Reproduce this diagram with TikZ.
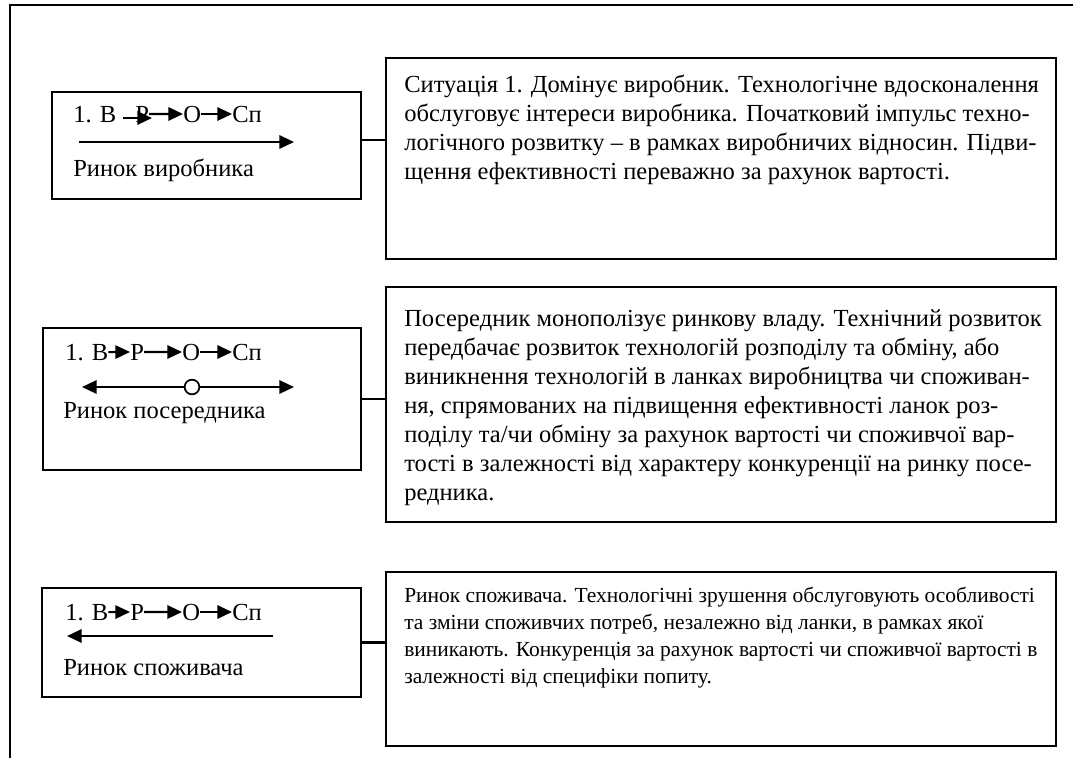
\documentclass[tikz,border=0pt]{standalone}
\usepackage{fontspec}
\setmainfont{Liberation Serif}
\usetikzlibrary{arrows.meta,fit}
\newcommand\fsbig{\fontsize{18.4}{21.75}\selectfont}
\newcommand\fssmall{\fontsize{16.1}{20.25}\selectfont}
\tikzset{
  frameline/.style={line width=1.7pt},
  box/.style={draw, line width=1.6pt, inner sep=0pt},
  lbl/.style={inner sep=0pt, anchor=base west, font=\fsbig},
  arr/.style={line width=1.6pt, -{Triangle[length=11pt,width=10pt]}},
  conn/.style={line width=1.6pt},
  ring/.style={circle, draw, fill=white, line width=1.3pt, minimum size=11pt, inner sep=0pt},
  para/.style={inner sep=0pt, anchor=base west}
}
\begin{document}
\begin{tikzpicture}[x=0.75pt,y=-0.75pt]
\useasboundingbox (0,0) rectangle (1073,758);
% outer frame (top and left)
\coordinate (fa) at (10,758);
\coordinate (fb) at (10,5);
\coordinate (fc) at (1073,5);
\draw[frameline] (fa) -- (fb) -- (fc);

% ---------- row 1 ----------
\node[box, fit={(52,92)(361,199)}] (l1) {};
\node[box, fit={(386,58)(1056,259)}] (r1) {};
\path ([yshift=4pt]l1.east) coordinate (q1);
\draw[conn] (q1) -- (q1 -| r1.west);
\node[lbl] (b1) at (73,122) {1. В};
\node[lbl] (p1) at (135,122) {Р};
\node[lbl] (o1) at (183,122) {О};
\node[lbl] (c1) at (232,122) {Сп};
\coordinate (s1) at (123,118);
\coordinate (e1) at (152,118);
\draw[arr] (s1) -- (e1);
\draw[arr] (p1.east) -- (o1.west);
\draw[arr] (o1.east) -- (c1.west);
\coordinate (a1s) at (79,142);
\coordinate (a1e) at (294,142);
\draw[arr] (a1s) -- (a1e);
\node[lbl] (m1) at (73,176) {Ринок виробника};
\node[para] (t1) at (404,92) {\parbox[t]{500pt}{\fsbig\raggedright
Ситуація 1. Домінує виробник. Технологічне вдосконалення\\
обслуговує інтереси виробника. Початковий імпульс техно-\\
логічного розвитку – в рамках виробничих відносин. Підви-\\
щення ефективності переважно за рахунок вартості.}};

% ---------- row 2 ----------
\node[box, fit={(43,328)(361,470)}] (l2) {};
\node[box, fit={(386,287)(1056,522)}] (r2) {};
\draw[conn] (l2.east) -- (l2.east -| r2.west);
\node[lbl] (b2) at (65,360) {1. В};
\node[lbl] (p2) at (130,360) {Р};
\node[lbl] (o2) at (182,360) {О};
\node[lbl] (c2) at (232,360) {Сп};
\draw[arr] (b2.east) -- (p2.west);
\draw[arr] (p2.east) -- (o2.west);
\draw[arr] (o2.east) -- (c2.west);
\node[ring] (k2) at (192,387) {};
\coordinate (a2l) at (82,387);
\coordinate (a2r) at (294,387);
\draw[arr] (k2) -- (a2l);
\draw[arr] (k2) -- (a2r);
\node[lbl] (m2) at (63,418) {Ринок посередника};
\node[para] (t2) at (404,326) {\parbox[t]{500pt}{\fsbig\raggedright
Посередник монополізує ринкову владу. Технічний розвиток\\
передбачає розвиток технологій розподілу та обміну, або\\
виникнення технологій в ланках виробництва чи споживан-\\
ня, спрямованих на підвищення ефективності ланок роз-\\
поділу та/чи обміну за рахунок вартості чи споживчої вар-\\
тості в залежності від характеру конкуренції на ринку посе-\\
редника.}};

% ---------- row 3 ----------
\node[box, fit={(42,588)(361,697)}] (l3) {};
\node[box, fit={(386,572)(1056,746)}] (r3) {};
\draw[conn] (l3.east) -- (l3.east -| r3.west);
\node[lbl] (b3) at (65,620) {1. В};
\node[lbl] (p3) at (130,620) {Р};
\node[lbl] (o3) at (182,620) {О};
\node[lbl] (c3) at (232,620) {Сп};
\draw[arr] (b3.east) -- (p3.west);
\draw[arr] (p3.east) -- (o3.west);
\draw[arr] (o3.east) -- (c3.west);
\coordinate (a3s) at (273,636);
\coordinate (a3e) at (67,636);
\draw[arr] (a3s) -- (a3e);
\node[lbl] (m3) at (63,675) {Ринок споживача};
\node[para] (t3) at (404,602) {\parbox[t]{500pt}{\fssmall\raggedright
Ринок споживача. Технологічні зрушення обслуговують особливості\\
та зміни споживчих потреб, незалежно від ланки, в рамках якої\\
виникають. Конкуренція за рахунок вартості чи споживчої вартості в\\
залежності від специфіки попиту.}};
\end{tikzpicture}
\end{document}
